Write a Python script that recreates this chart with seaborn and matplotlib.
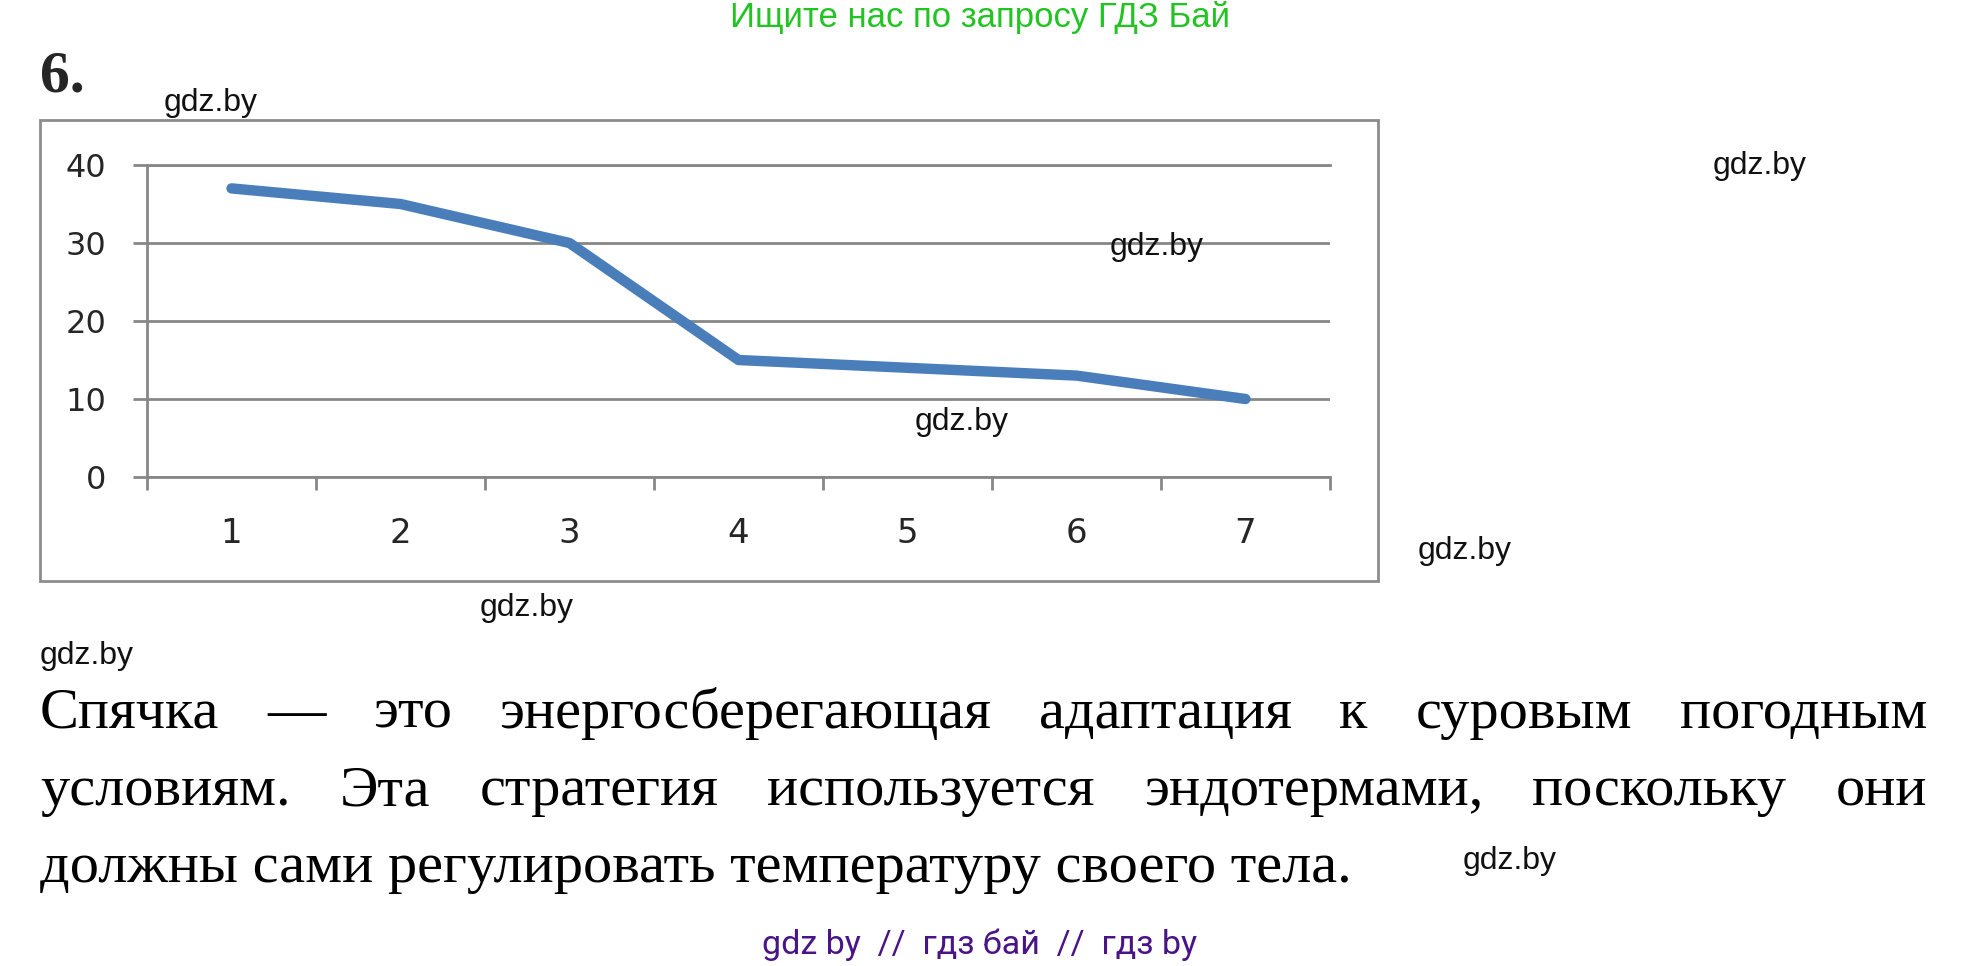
import matplotlib
matplotlib.use("Agg")
import matplotlib.pyplot as plt
import matplotlib.patches as mpatches
from matplotlib.ticker import FixedLocator, NullFormatter
import pandas as pd
import seaborn as sns

W, H = 1962, 966

# chart data
days = [1, 2, 3, 4, 5, 6, 7]
temps = [37, 35, 30, 15, 14, 13, 10]
y_ticks = [0, 10, 20, 30, 40]

HEADER = "Ищите нас по запросу ГДЗ Бай"
FOOTER = "gdz by  //  гдз бай  //  гдз by"
NUMBER = "6."
BODY = [
    "Спячка — это энергосберегающая адаптация к суровым погодным",
    "условиям. Эта стратегия используется эндотермами, поскольку они",
    "должны сами регулировать температуру своего тела.",
]
MARK = "gdz.by"
MARK_POS = [(164, 103), (1713, 166), (1110, 247), (915, 422),
            (1418, 551), (480, 608), (40, 656), (1463, 861)]

LINE_C = "#4A7EBB"
GRID_C = "#878787"


def fx(px):
    return px / W


def fy(py):
    return 1 - py / H


def justified(fig, text, y, x0, x1, **kw):
    """Draw one line of words spread from x0 to x1 (pixels)."""
    words = text.split()
    r = fig.canvas.get_renderer()
    arts = [fig.text(0, 0, w, va="baseline", ha="left", **kw) for w in words]
    widths = [a.get_window_extent(r).width for a in arts]
    gap = (x1 - x0 - sum(widths)) / (len(words) - 1)
    x = x0
    for a, w in zip(arts, widths):
        a.set_position((fx(x), fy(y)))
        x += w + gap


sns.set_style("white")
plt.rcParams["font.family"] = ["DejaVu Sans"]

fig = plt.figure(figsize=(W / 100, H / 100), dpi=100)
fig.patch.set_facecolor("white")

# outer chart frame
fig.patches.append(mpatches.Rectangle(
    (fx(40), fy(581)), fx(1378) - fx(40), fy(120) - fy(581),
    transform=fig.transFigure, fill=False, edgecolor="#8c8c8c", linewidth=2.0))

ax = fig.add_axes([fx(147), fy(477), fx(1330) - fx(147), fy(165) - fy(477)])
df = pd.DataFrame({"day": days, "temp": temps})
sns.lineplot(data=df, x="day", y="temp", ax=ax, color=LINE_C, linewidth=7.5,
             solid_joinstyle="round", solid_capstyle="round", zorder=3)

ax.set_xlim(0.5, 7.5)
ax.set_ylim(0, 40)
ax.set_yticks(y_ticks)
ax.set_yticklabels([str(t) for t in y_ticks])
ax.yaxis.grid(True, color=GRID_C, linewidth=2.0)
ax.xaxis.set_major_locator(FixedLocator([d - 0.5 for d in days] + [days[-1] + 0.5]))
ax.xaxis.set_major_formatter(NullFormatter())
ax.xaxis.set_minor_locator(FixedLocator(days))
ax.set_xticklabels([str(d) for d in days], minor=True)
ax.tick_params(axis="x", which="major", direction="out", length=9.5, width=2.0,
               color=GRID_C, bottom=True)
ax.tick_params(axis="x", which="minor", length=0, pad=28.5, labelsize=24.5, bottom=True)
ax.tick_params(axis="y", direction="out", length=10, width=2.0, color=GRID_C,
               pad=19.5, labelsize=23, left=True)
ax.set_xlabel("")
ax.set_ylabel("")
for side in ("left", "bottom", "top"):
    ax.spines[side].set_color(GRID_C)
    ax.spines[side].set_linewidth(2.0)
ax.spines["right"].set_visible(False)

# page text
fig.text(fx(980), fy(18), HEADER, ha="center", va="center", fontsize=25,
         color="#22c322", family="Liberation Sans")
fig.text(fx(40), fy(78), NUMBER, ha="left", va="center", fontsize=43,
         fontweight="bold", family="Liberation Serif")
for x, y in MARK_POS:
    fig.text(fx(x), fy(y), MARK, ha="left", va="center", fontsize=23,
             family="Liberation Sans", color="#111111")

body_kw = dict(fontsize=42, family="Liberation Serif", color="black")
justified(fig, BODY[0], 728, 40, 1927, **body_kw)
justified(fig, BODY[1], 805, 40, 1927, **body_kw)
fig.text(fx(40), fy(882), BODY[2], ha="left", va="baseline", **body_kw)

fig.text(fx(980), fy(945), FOOTER, ha="center", va="center", fontsize=24.5,
         color="#4a1486", family="Roboto")

fig.savefig("out.png", dpi=100)
